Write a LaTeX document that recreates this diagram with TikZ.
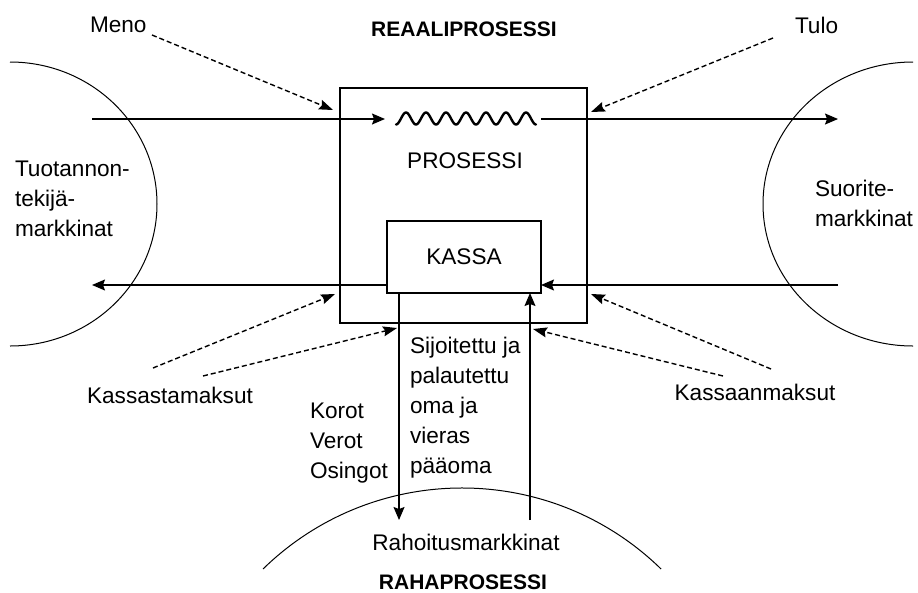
\documentclass[tikz,border=0pt]{standalone}
\usepackage{fontspec}
\setmainfont{Liberation Sans}
\usetikzlibrary{arrows.meta}
\begin{document}
\begin{tikzpicture}[x=1pt,y=-1pt,
  every node/.style={inner sep=0pt,outer sep=0pt,font=\fontsize{22.6}{30}\selectfont},
  titlefont/.style={font=\fontsize{21}{26}\selectfont\bfseries},
  boxstyle/.style={draw,line width=1.5pt},
  flow/.style={line width=1.3pt,-{Stealth[length=13pt,width=11pt,inset=2pt]}},
  wavestyle/.style={line width=2.4pt,line cap=round},
  dflow/.style={line width=1.4pt,dash pattern=on 5pt off 3pt,-{Stealth[length=14pt,width=10pt,inset=2pt]}},
  market/.style={line width=1pt}]
\useasboundingbox (0,0) rectangle (918,592);
\fill[white] (0,0) rectangle (918,592);

% boxes
\node[boxstyle,minimum width=247pt,minimum height=235pt,anchor=north west] (proc) at (340,88) {};
\node[boxstyle,minimum width=154pt,minimum height=72pt,fill=white] (kassa) at (464,257) {KASSA};

% markets
\draw[market] (10,62) arc[start angle=-90,end angle=90,x radius=147,y radius=142];
\draw[market] (913,62) arc[start angle=270,end angle=90,x radius=150,y radius=142];
\draw[market] (263,569) arc[start angle=-134.3,end angle=-45.7,radius=285];

% text
\node[anchor=base west] (meno) at (90,32) {Meno};
\node[titlefont,anchor=base] (reaali) at (464,36) {REAALIPROSESSI};
\node[anchor=base west] (tulo) at (795,33) {Tulo};
\node[anchor=base] (prosessi) at (465,168) {PROSESSI};
\node[anchor=north west,align=left] (tuot) at (15,161) {Tuotannon-\\tekijä-\\markkinat};
\node[anchor=north west,align=left] (suor) at (815,180.5) {Suorite-\\markkinat};
\node[anchor=base] (kassast) at (170,403) {Kassastamaksut};
\node[anchor=base] (kassaan) at (755,400) {Kassaanmaksut};
\node[anchor=north west,align=left] (korot) at (310,403) {Korot\\Verot\\Osingot};
\node[anchor=north west,align=left] (sijo) at (410,337.5) {Sijoitettu ja\\palautettu\\oma ja\\vieras\\pääoma};
\node[anchor=base] (rahoitus) at (466,550) {Rahoitusmarkkinat};
\node[titlefont,anchor=base] (rahapro) at (463,589) {RAHAPROSESSI};

% real flows
\coordinate (inL) at (92,119);
\coordinate (waveS) at (385,119);
\coordinate (waveE) at (541,119);
\coordinate (outR) at (838,119);
\draw[flow] (inL) -- (waveS);
\draw[wavestyle] plot[domain=0:7,samples=160,smooth] ({396+20*\x},{118.5+6*cos(360*\x)});
\draw[flow] (waveE) -- (outR);

% cash flows
\coordinate (cashL) at (92,285);
\coordinate (cashR) at (838,285);
\coordinate (fin1) at (399,520);
\coordinate (fin2) at (530,520);
\draw[flow] (cashR) -- (kassa.east |- cashR);
\draw[flow] (kassa.west |- cashL) -- (cashL);
\draw[flow] (kassa.south -| fin1) -- (fin1);
\draw[flow] (fin2) -- (kassa.south -| fin2);

% dashed labels
\coordinate (menoT) at (333,110);
\coordinate (tuloT) at (591,112);
\coordinate (ka1T) at (335,294);
\coordinate (ka2T) at (397,328);
\coordinate (kb1T) at (591,294);
\coordinate (kb2T) at (533,329);
\coordinate (menoS) at (152,35);
\coordinate (tuloS) at (773,38);
\coordinate (ka1S) at (153,368);
\coordinate (ka2S) at (203,376);
\coordinate (kb1S) at (771,369);
\coordinate (kb2S) at (723,376);
\draw[dflow] (menoS) -- (menoT);
\draw[dflow] (tuloS) -- (tuloT);
\draw[dflow] (ka1S) -- (ka1T);
\draw[dflow] (ka2S) -- (ka2T);
\draw[dflow] (kb1S) -- (kb1T);
\draw[dflow] (kb2S) -- (kb2T);
\end{tikzpicture}
\end{document}
